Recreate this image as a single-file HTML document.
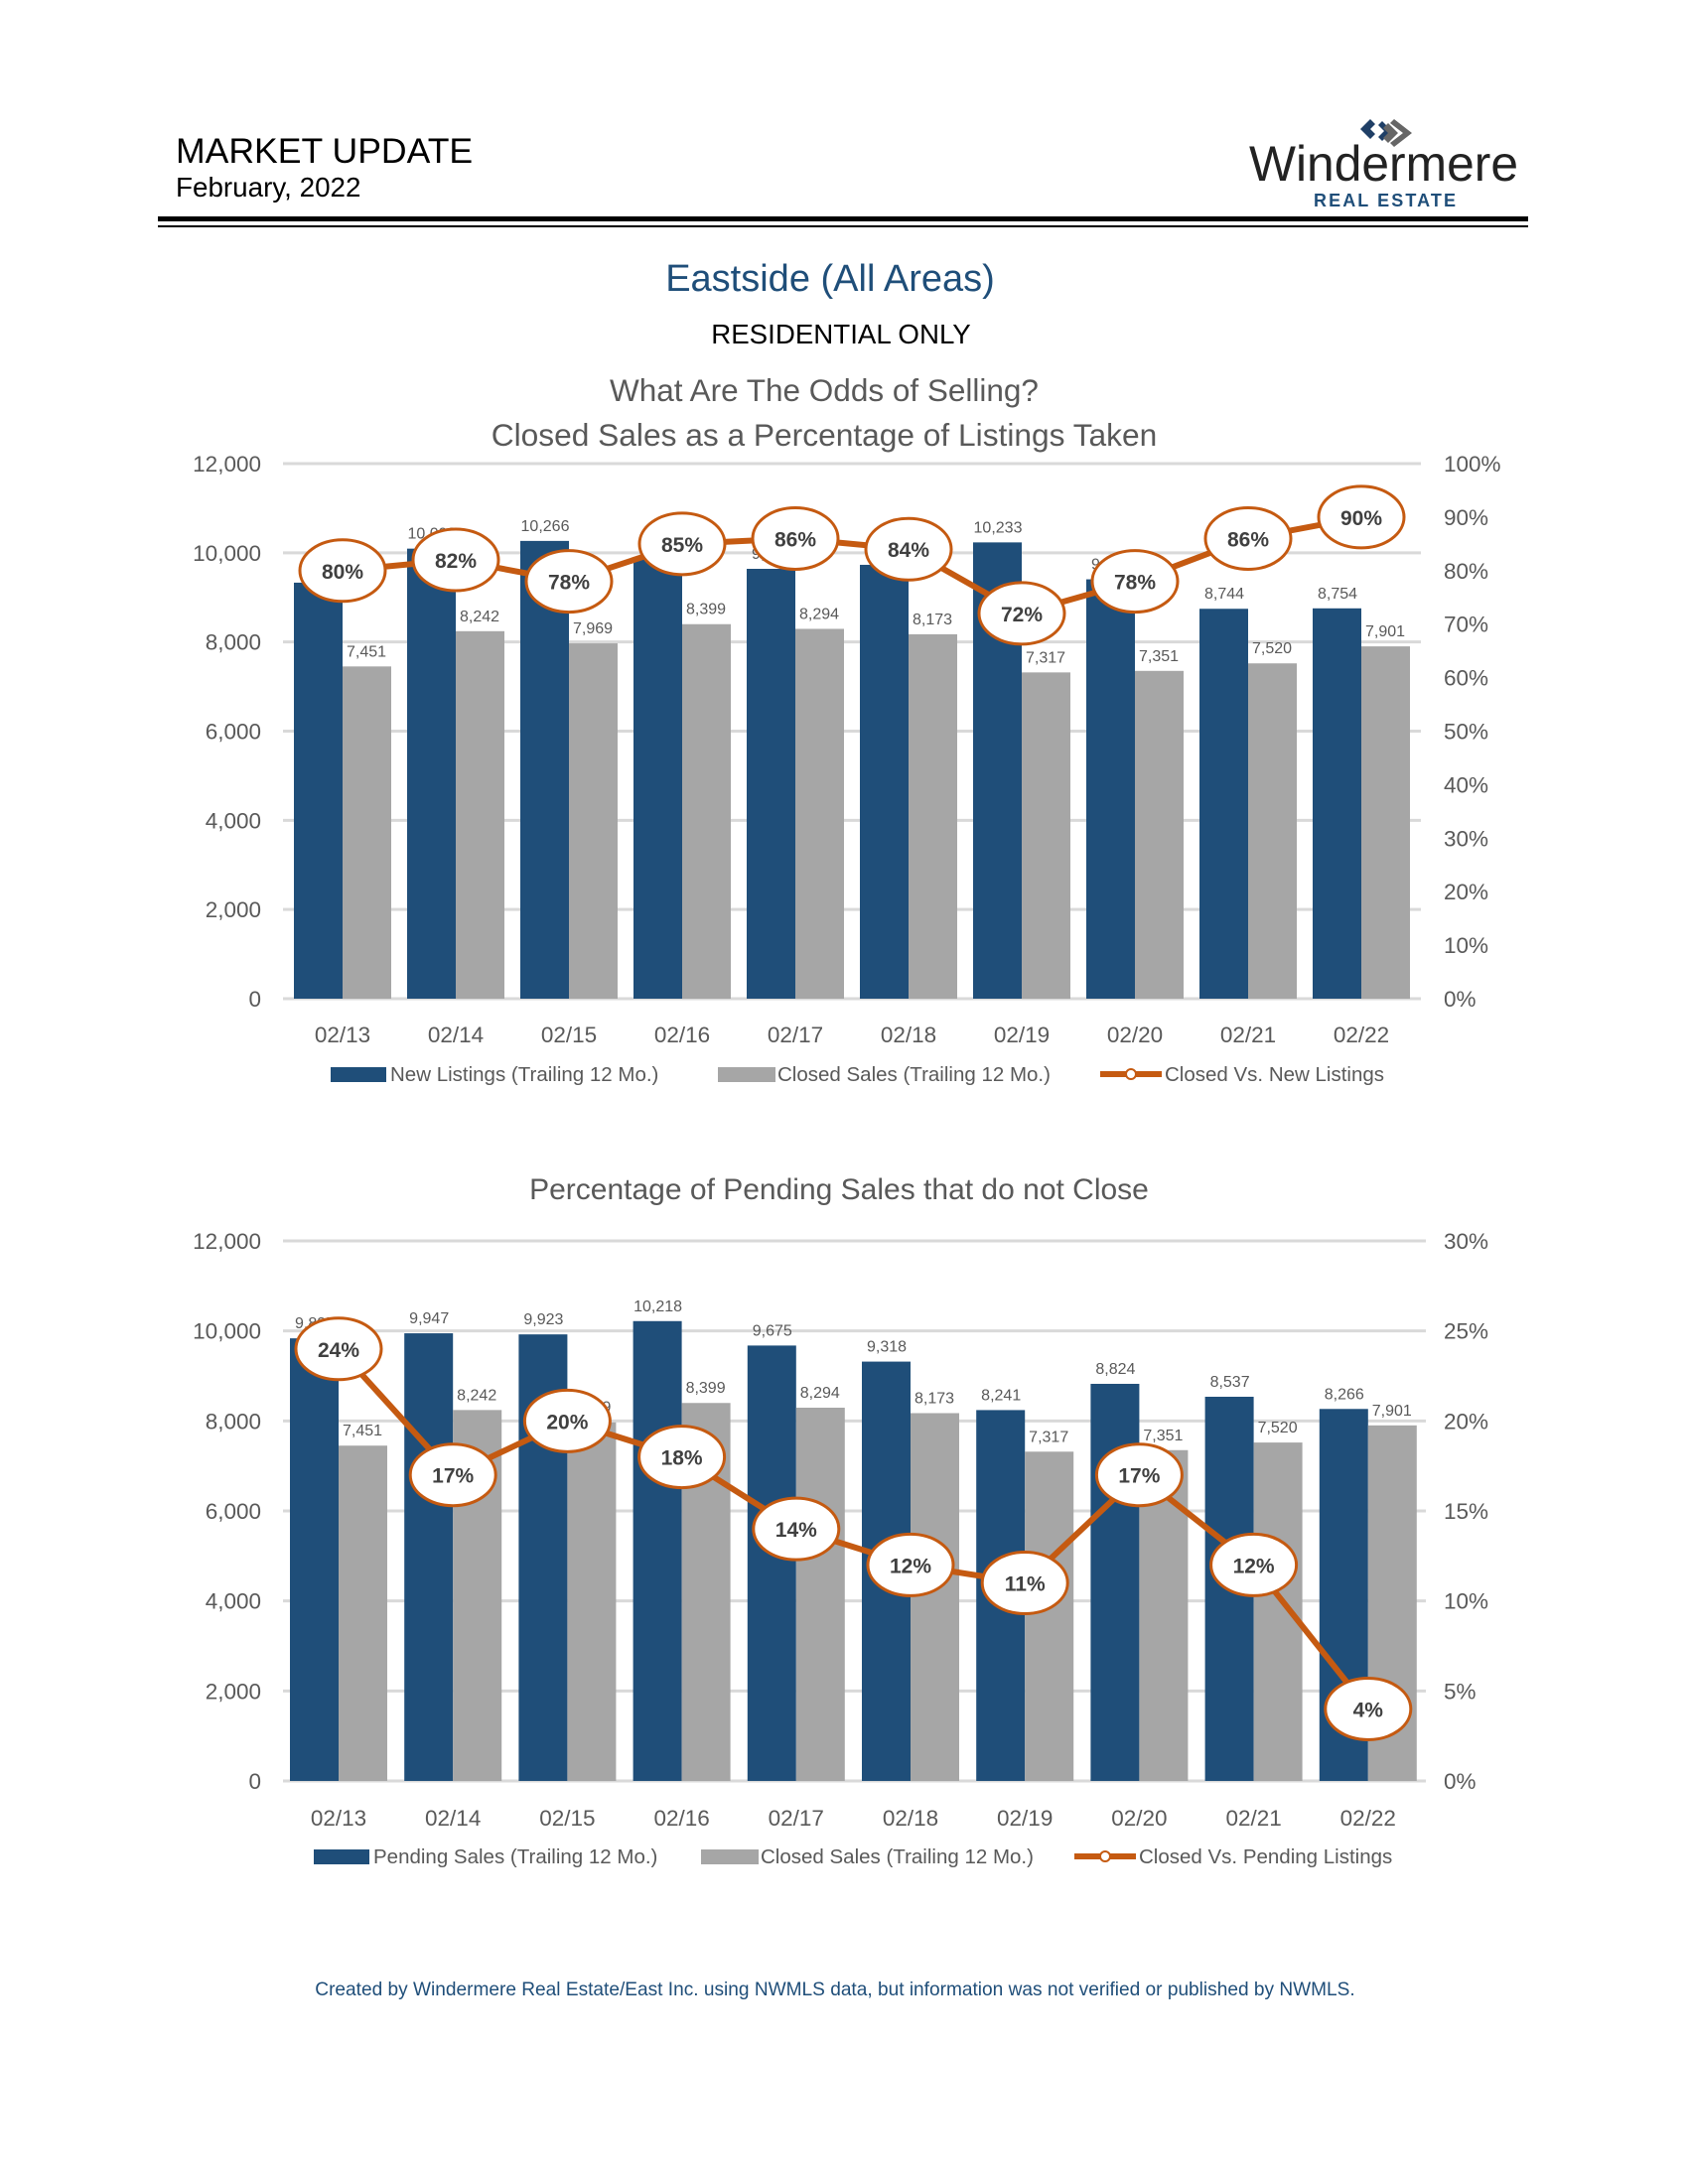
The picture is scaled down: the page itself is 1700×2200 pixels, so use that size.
<!DOCTYPE html>
<html><head><meta charset="utf-8"><style>
body{margin:0;background:#fff;}
svg{display:block;font-family:"Liberation Sans",sans-serif;}
</style></head><body>
<svg id="page" width="1700" height="2200" viewBox="0 0 1700 2200">
<rect width="1700" height="2200" fill="#fff"/>
<text x="177" y="164" font-size="35.6" fill="#000">MARKET UPDATE</text>
<text x="177" y="198" font-size="27.8" fill="#000">February, 2022</text>
<g>
<path d="M1380 120 l-10 10 l10 10 l5 -5 l-5 -5 l5 -5 z" fill="#1f3f66"/>
<path d="M1392 122 l10 10 l-10 10 l-4 -4 l6 -6 l-6 -6z" fill="#1f3f66"/>
<path d="M1398 124 l10 10 l-10 10 l-5 -5 l5 -5 l-5 -5 z M1404 120 l18 14 l-18 14 l-4 -4 l13 -10 l-13 -10z" fill="#666"/>
<text x="1258" y="182" font-size="50" fill="#222" textLength="271" lengthAdjust="spacingAndGlyphs">Windermere</text>
<text x="1323" y="208" font-size="18" font-weight="bold" fill="#1f4e79" textLength="143" lengthAdjust="spacing">REAL ESTATE</text>
</g>
<rect x="159" y="218" width="1380" height="5" fill="#000"/>
<rect x="159" y="227" width="1380" height="2" fill="#000"/>
<text x="836" y="293" font-size="38" fill="#1f4e79" text-anchor="middle">Eastside (All Areas)</text>
<text x="847" y="346" font-size="27.7" fill="#000" text-anchor="middle">RESIDENTIAL ONLY</text>
<text x="830" y="404" font-size="31.5" fill="#595959" text-anchor="middle">What Are The Odds of Selling?</text>
<text x="830" y="449" font-size="31.7" fill="#595959" text-anchor="middle">Closed Sales as a Percentage of Listings Taken</text>
<text x="845" y="1208" font-size="30" fill="#595959" text-anchor="middle">Percentage of Pending Sales that do not Close</text>
<g id="chart1"></g>
<g id="chart2"></g>
<text x="841" y="2010" font-size="19.1" fill="#1f4e79" text-anchor="middle">Created by Windermere Real Estate/East Inc. using NWMLS data, but information was not verified or published by NWMLS.</text>
</svg>
<script>
const categories = ["02/13","02/14","02/15","02/16","02/17","02/18","02/19","02/20","02/21","02/22"];
const newListings = [9330,10093,10266,9900,9640,9730,10233,9405,8744,8754];
const closedSales = [7451,8242,7969,8399,8294,8173,7317,7351,7520,7901];
const closedVsNew = [80,82,78,85,86,84,72,78,86,90];
const pendingSales = [9835,9947,9923,10218,9675,9318,8241,8824,8537,8266];
const closedVsPending = [24,17,20,18,14,12,11,17,12,4];
const leftTicks = [0,2000,4000,6000,8000,10000,12000];
const rightTicks1 = [0,10,20,30,40,50,60,70,80,90,100];
const rightTicks2 = [0,5,10,15,20,25,30];
const NS="http://www.w3.org/2000/svg";
function mk(p,tag,attrs,txt){const e=document.createElementNS(NS,tag);for(const k in attrs)e.setAttribute(k,attrs[k]);if(txt!==undefined)e.textContent=txt;p.appendChild(e);return e;}
const fmt=v=>v.toLocaleString("en-US");
function drawChart(g,cfg){
  const yL=v=>cfg.y0-(v/12000)*(cfg.y0-cfg.y1);
  const yR=v=>cfg.y0-(v/cfg.rmax)*(cfg.y0-cfg.y1);
  const xc=i=>cfg.c0+i*cfg.pitch;
  leftTicks.forEach(t=>{
    const l=mk(g,"line",{x1:cfg.px0,x2:cfg.px1,y1:yL(t),y2:yL(t),stroke:"#d9d9d9","stroke-width":3});
    
    
    const tx=mk(g,"text",{x:263,y:yL(t)+8,"font-size":22.5,fill:"#595959","text-anchor":"end"},t===0?"0":fmt(t));
    
    
  });
  cfg.rticks.forEach(t=>{
    const tx=mk(g,"text",{x:1454,y:yR(t)+8,"font-size":22.5,fill:"#595959"},t+"%");
    
    
  });
  categories.forEach((c,i)=>{
    const a=cfg.bars[i],b=closedSales[i];
    const r1=mk(g,"rect",{x:xc(i)-49,y:yL(a),width:49,height:cfg.y0-yL(a),fill:"#1f4e79"});
    
    
    const r2=mk(g,"rect",{x:xc(i),y:yL(b),width:49,height:cfg.y0-yL(b),fill:"#a6a6a6"});
    
    
    const l1=mk(g,"text",{x:xc(i)-24,y:yL(a)-10,"font-size":16,fill:"#595959","text-anchor":"middle"},fmt(a));
    
    
    const l2=mk(g,"text",{x:xc(i)+24,y:yL(b)-10,"font-size":16,fill:"#595959","text-anchor":"middle"},fmt(b));
    
    
    const xl=mk(g,"text",{x:xc(i),y:cfg.xlY,"font-size":22.5,fill:"#595959","text-anchor":"middle"},c);
    
    
  });
  const pts=cfg.pct.map((v,i)=>xc(i)+","+yR(v)).join(" ");
  const pl=mk(g,"polyline",{points:pts,fill:"none",stroke:"#c55a11","stroke-width":6,"stroke-linejoin":"round"});
  
  
  cfg.pct.forEach((v,i)=>{
    const e=mk(g,"ellipse",{cx:xc(i),cy:yR(v),rx:43,ry:31,fill:"#fff",stroke:"#c55a11","stroke-width":3});
    
    
    const t=mk(g,"text",{x:xc(i),y:yR(v)+8,"font-size":21,"font-weight":"bold",fill:"#404040","text-anchor":"middle"},v+"%");
    
    
  });
  const L=cfg.leg;
  const s1=mk(g,"rect",{x:L[0],y:cfg.legY-7,width:56,height:15,fill:"#1f4e79"});
  
  
  const t1=mk(g,"text",{x:L[0]+60,y:cfg.legY+7,"font-size":20.5,fill:"#595959"},cfg.names[0]);
  
  
  const s2=mk(g,"rect",{x:L[1],y:cfg.legY-7,width:58,height:15,fill:"#a6a6a6"});
  
  
  const t2=mk(g,"text",{x:L[1]+60,y:cfg.legY+7,"font-size":20.5,fill:"#595959"},cfg.names[1]);
  
  
  const s3=mk(g,"line",{x1:L[2],x2:L[2]+62,y1:cfg.legY,y2:cfg.legY,stroke:"#c55a11","stroke-width":6});
  
  
  mk(g,"circle",{cx:L[2]+31,cy:cfg.legY,r:5,fill:"#fff",stroke:"#c55a11","stroke-width":2});
  const t3=mk(g,"text",{x:L[2]+65,y:cfg.legY+7,"font-size":20.5,fill:"#595959"},cfg.names[2]);
  
  
}
drawChart(document.getElementById("chart1"),{y0:1006,y1:467,px0:285,px1:1431,c0:345,pitch:114,rmax:100,rticks:rightTicks1,bars:newListings,pct:closedVsNew,xlY:1050,legY:1082,leg:[333,723,1108],names:["New Listings (Trailing 12 Mo.)","Closed Sales (Trailing 12 Mo.)","Closed Vs. New Listings"]});
drawChart(document.getElementById("chart2"),{y0:1794,y1:1250,px0:285,px1:1436,c0:341,pitch:115.2,rmax:30,rticks:rightTicks2,bars:pendingSales,pct:closedVsPending,xlY:1839,legY:1870,leg:[316,706,1082],names:["Pending Sales (Trailing 12 Mo.)","Closed Sales (Trailing 12 Mo.)","Closed Vs. Pending Listings"]});
</script>
</body></html>
